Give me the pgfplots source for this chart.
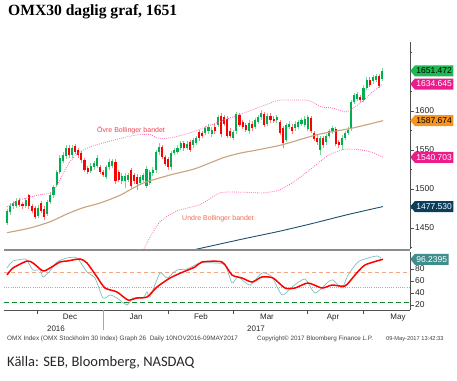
\documentclass[border=0pt]{standalone}
\usepackage{fontspec}
\setmainfont{Liberation Sans}
\newfontfamily\titlefont{Liberation Serif}
\newfontfamily\carlito{Carlito}
\usepackage{pgfplots}
\pgfplotsset{compat=1.18}
\usepackage{pgfplotstable}
\usetikzlibrary{shapes.symbols}

\definecolor{cgreen}{HTML}{00B050}
\definecolor{wgreen}{HTML}{7FD49A}
\definecolor{cred}{HTML}{FF0000}
\definecolor{wred}{HTML}{F48080}
\definecolor{mabrown}{HTML}{C9A27E}
\definecolor{mablue}{HTML}{1F4E6E}
\definecolor{bband}{HTML}{FF5FAF}
\definecolor{axgray}{HTML}{505050}
\definecolor{sepgray}{HTML}{8C8C8C}
\definecolor{oscteal}{HTML}{7FBFBF}
\definecolor{refor}{HTML}{F4A582}
\definecolor{refgreen}{HTML}{108A30}
\definecolor{boxgreen}{HTML}{1DB954}
\definecolor{boxmag}{HTML}{EC1C8C}
\definecolor{boxor}{HTML}{F7941D}
\definecolor{boxnavy}{HTML}{0B3D5C}
\definecolor{boxteal}{HTML}{3E8E8E}
\definecolor{ovrecol}{HTML}{F0404F}
\definecolor{undrecol}{HTML}{F26A4A}

\pgfplotstableread{
i o h l c
0 1457 1475 1454 1472
1 1470 1482 1467 1478
2 1478 1485 1475 1482
3 1478 1488 1476 1485
4 1486 1489 1477 1480
5 1481 1484 1474 1478
6 1478 1489 1476 1486
7 1492 1494 1475 1478
8 1478 1481 1469 1472
9 1476 1478 1461 1464
10 1466 1479 1463 1476
11 1482 1485 1469 1472
12 1475 1478 1460 1464
13 1468 1486 1465 1483
14 1484 1495 1481 1492
15 1492 1505 1489 1502
16 1505 1525 1502 1522
17 1522 1543 1519 1540
18 1536 1547 1533 1543
19 1542 1556 1539 1553
20 1553 1556 1540 1543
21 1543 1556 1540 1553
22 1555 1558 1545 1548
23 1550 1553 1540 1543
24 1546 1549 1534 1537
25 1537 1540 1522 1525
26 1527 1530 1519 1522
27 1523 1533 1520 1530
28 1528 1536 1525 1533
29 1530 1543 1527 1540
30 1528 1531 1519 1522
31 1522 1525 1515 1518
32 1516 1531 1513 1528
33 1528 1538 1525 1535
34 1530 1539 1527 1536
35 1535 1538 1507 1510
36 1522 1525 1509 1512
37 1510 1520 1507 1517
38 1510 1520 1501 1517
39 1512 1521 1509 1518
40 1524 1527 1501 1504
41 1518 1521 1507 1510
42 1516 1519 1499 1506
43 1508 1518 1505 1515
44 1512 1521 1509 1518
45 1504 1529 1501 1526
46 1508 1525 1505 1522
47 1520 1528 1517 1525
48 1524 1550 1521 1547
49 1547 1559 1544 1554
50 1554 1557 1538 1541
51 1541 1544 1529 1532
52 1538 1541 1525 1528
53 1528 1549 1525 1546
54 1546 1553 1543 1550
55 1548 1556 1545 1553
56 1553 1562 1550 1559
57 1559 1562 1549 1552
58 1553 1561 1550 1558
59 1560 1563 1547 1550
60 1556 1566 1553 1563
61 1559 1568 1556 1565
62 1573 1576 1562 1565
63 1572 1575 1565 1568
64 1572 1581 1569 1578
65 1574 1583 1571 1580
66 1570 1579 1567 1576
67 1580 1583 1571 1574
68 1582 1595 1579 1592
69 1594 1597 1567 1570
70 1592 1595 1581 1584
71 1590 1593 1565 1568
72 1575 1578 1565 1568
73 1566 1576 1563 1573
74 1574 1599 1571 1596
75 1595 1598 1579 1582
76 1586 1589 1577 1580
77 1582 1585 1573 1576
78 1574 1588 1571 1585
79 1584 1587 1575 1578
80 1580 1591 1577 1588
81 1586 1595 1583 1592
82 1592 1601 1589 1598
83 1596 1599 1579 1582
84 1584 1597 1581 1594
85 1594 1597 1585 1588
86 1590 1593 1585 1588
87 1588 1595 1585 1592
88 1586 1589 1569 1572
89 1578 1581 1553 1559
90 1563 1585 1560 1582
91 1580 1587 1577 1584
92 1580 1583 1571 1574
93 1578 1587 1575 1584
94 1580 1589 1577 1586
95 1584 1591 1581 1588
96 1582 1593 1579 1590
97 1577 1595 1574 1592
98 1591 1594 1572 1575
99 1572 1575 1561 1564
100 1566 1569 1557 1560
101 1550 1568 1544 1565
102 1565 1568 1553 1556
103 1560 1571 1557 1568
104 1568 1577 1565 1574
105 1574 1581 1571 1578
106 1577 1580 1555 1558
107 1560 1563 1553 1556
108 1556 1569 1550 1566
109 1566 1575 1563 1572
110 1572 1579 1569 1576
111 1578 1614 1575 1612
112 1612 1623 1609 1620
113 1616 1625 1613 1622
114 1618 1621 1611 1614
115 1614 1633 1611 1630
116 1630 1643 1627 1640
117 1640 1643 1631 1634
118 1638 1646 1635 1643
119 1640 1648 1637 1645
120 1645 1648 1629 1632
121 1641 1655 1638 1651.472
}\candles

\pgfplotstableread{
x y
7 1444
30 1450
50 1458
67 1468
83 1476
100 1482
120 1492
142 1507
170 1518
195 1526
223 1540
240 1546
257 1550
283 1557
318 1570
352 1578
383 1587.674
}\mahundred

\pgfplotstableread{
x y
190 1421
243 1436
280 1446
313 1456
347 1467
383 1477.530
}\matwohundred

\pgfplotstableread{
x y
7 1477
20 1486
37 1492
50 1495
57 1505
63 1520
70 1535
78 1546
90 1554
100 1558
115 1563
135 1569
150 1570
158 1565
172 1566
190 1572
207 1580
223 1588
247 1599
270 1610
280 1614
305 1614
312 1612
322 1605
332 1604
345 1599
350 1601
362 1612
372 1624
383 1634.645
}\bbupper

\pgfplotstableread{
x y
142 1418
150 1438
160 1458
177 1472
200 1480
220 1495
240 1496
263 1495
280 1499
297 1512
313 1528
328 1543
345 1551
362 1550
372 1547
383 1540.703
}\bblower

\pgfplotstableread{
x y
7 70
13 81.7
27 93.3
33 90
43 76.7
50 81.7
60 91.7
67 93.3
80 96.7
87 90
97 66.7
105 48.3
117 41.7
128 28.3
137 31.7
147 33.3
157 50
170 65
183 75
195 83.3
202 91.7
222 91.7
232 70
242 65
252 58.3
262 66.7
273 65
285 48.3
295 48.3
308 56.7
322 48.3
332 53.3
345 51.7
355 70
365 86.7
383 96.2395
}\oscred

\pgfplotstableread{
x y
7 81.7
13 93.3
25 96.7
28 91.7
33 78.3
40 78.3
43 66.7
50 76.7
57 91.7
67 98.3
77 98.3
87 75
95 65
103 31.7
110 36.7
117 31.7
127 20
133 31.7
143 31.7
147 41.7
150 33.3
160 73.3
167 65
177 78.3
187 80
200 90
215 90
225 86.7
232 56.7
238 66.7
250 53.3
262 73.3
272 66.7
282 36.7
292 50
305 63.3
315 40
328 58.3
333 61.7
342 48.3
348 70
358 91.7
368 98.3
377 101.7
381 98.3
}\oscteal

\tikzset{valbox/.style={signal, signal to=west, signal pointer angle=100, anchor=west, inner xsep=1.5pt, inner ysep=0.8pt, minimum height=11pt, font=\fontsize{8.5}{9}\selectfont}}
\pgfplotsset{
  wick/.style={draw=none, mark=none, forget plot,
    error bars/.cd, y dir=both, y explicit, error mark=none,
    error bar style={line width=0.5pt, draw=#1, solid}},
  body/.style={draw=none, mark=none, forget plot,
    error bars/.cd, y dir=both, y explicit, error mark=none,
    error bar style={line width=2.1pt, draw=#1, solid}}
}

\begin{document}
\begin{tikzpicture}[x=1pt,y=1pt]
\path[use as bounding box] (0,0) rectangle (457,380);

\begin{axis}[at={(4pt,131pt)}, anchor=south west, scale only axis,
  width=406pt, height=207pt,
  xmin=4, xmax=410, ymin=1423.1, ymax=1688.5,
  axis x line=none, axis y line*=right,
  axis line style={-, draw=axgray},
  ytick={1450,1500,1550,1600},
  minor ytick={1425,1475,1525,1575,1625,1675},
  tick align=outside, major tick length=4pt, minor tick length=2pt,
  tick style={draw=axgray},
  yticklabel style={font=\fontsize{8.5}{9}\selectfont, text=black!85, inner sep=1pt},
  /pgf/number format/assume math mode=true,
  /pgf/number format/1000 sep={},
  clip mode=individual]

\addplot[restrict expr to domain={\thisrow{c}-\thisrow{o}}{0:1000}, wick=wgreen]
  table[x expr=7+3.1*\thisrow{i}, y expr=(\thisrow{h}+\thisrow{l})/2, y error expr=(\thisrow{h}-\thisrow{l})/2] {\candles};
\addplot[restrict expr to domain={\thisrow{c}-\thisrow{o}}{-1000:-0.001}, wick=wred]
  table[x expr=7+3.1*\thisrow{i}, y expr=(\thisrow{h}+\thisrow{l})/2, y error expr=(\thisrow{h}-\thisrow{l})/2] {\candles};
\addplot[restrict expr to domain={\thisrow{c}-\thisrow{o}}{0:1000}, body=cgreen]
  table[x expr=7+3.1*\thisrow{i}, y expr=(\thisrow{o}+\thisrow{c})/2, y error expr={max(abs(\thisrow{c}-\thisrow{o})/2,0.8)}] {\candles};
\addplot[restrict expr to domain={\thisrow{c}-\thisrow{o}}{-1000:-0.001}, body=cred]
  table[x expr=7+3.1*\thisrow{i}, y expr=(\thisrow{o}+\thisrow{c})/2, y error expr={max(abs(\thisrow{c}-\thisrow{o})/2,0.8)}] {\candles};

\addplot[mabrown, line width=1.1pt, smooth, tension=0.4] table {\mahundred};
\addplot[mablue, line width=0.9pt, smooth, tension=0.4] table {\matwohundred};
\addplot[bband, line width=0.8pt, dash pattern=on 0.8pt off 1.3pt, smooth, tension=0.4] table {\bbupper};
\addplot[bband, line width=0.8pt, dash pattern=on 0.8pt off 1.3pt, smooth, tension=0.4] table {\bblower};

\node[font=\fontsize{7}{8}\selectfont, text=ovrecol, anchor=west, inner sep=0pt] at (axis cs:97,1575.6) {Övre Bollinger bandet};
\node[font=\fontsize{7}{8}\selectfont, text=undrecol, anchor=west, inner sep=0pt] at (axis cs:182,1461.5) {Undre Bollinger bandet};

\node[valbox, fill=boxgreen, text=black] at (axis cs:410,1651.472) {1651.472};
\node[valbox, fill=boxmag, text=white] at (axis cs:410,1634.645) {1634.645};
\node[valbox, fill=boxor, text=black] at (axis cs:410,1587.674) {1587.674};
\node[valbox, fill=boxmag, text=white] at (axis cs:410,1540.703) {1540.703};
\node[valbox, fill=boxnavy, text=white] at (axis cs:410,1477.530) {1477.530};
\end{axis}

\draw[line width=2.6pt, sepgray] (4,130) -- (410,130);

\begin{axis}[at={(4pt,70pt)}, anchor=south west, scale only axis,
  width=406pt, height=58pt,
  xmin=4, xmax=410, ymin=11.67, ymax=108.33,
  axis x line*=bottom, axis y line*=right,
  axis line style={-, draw=axgray},
  ytick={20,40,60,80},
  xtick={37,103,168,233,307,363},
  xticklabels={,,,,,},
  extra x ticks={70,136,201,267,333,398},
  extra x tick labels={Dec,Jan,Feb,Mar,Apr,May},
  extra x tick style={major tick length=0pt, tick style={draw=none}},
  xticklabel style={font=\fontsize{8}{9}\selectfont, text=black!85, inner sep=1pt, yshift=-3pt},
  tick align=outside, major tick length=4pt,
  tick style={draw=axgray},
  yticklabel style={font=\fontsize{8.5}{9}\selectfont, text=black!85, inner sep=1pt},
  /pgf/number format/assume math mode=true,
  clip mode=individual]
\addplot[refor, line width=0.8pt, dash pattern=on 4pt off 3pt] coordinates {(4,75) (410,75)};
\addplot[oscteal, line width=0.7pt, dash pattern=on 0.7pt off 1.5pt] coordinates {(4,50) (410,50)};
\addplot[refgreen, line width=1pt, dash pattern=on 5pt off 3pt] coordinates {(4,25) (410,25)};
\addplot[oscteal, line width=0.7pt, smooth, tension=0.4] table {\oscteal};
\addplot[cred, line width=1.5pt, smooth, tension=0.4] table {\oscred};
\node[valbox, fill=boxteal, text=white] at (axis cs:410,96.2395) {96.2395};
\end{axis}

\draw[line width=0.5pt, black!35] (103,70) -- (103,50);
\node[font=\fontsize{8}{9}\selectfont, text=black!85, anchor=base] at (56,49) {2016};
\node[font=\fontsize{8}{9}\selectfont, text=black!85, anchor=base] at (256,49) {2017};

\node[font=\fontsize{6.4}{7}\selectfont, text=black!75, anchor=base west, inner sep=0pt] at (7,40) {OMX Index (OMX Stockholm 30 Index) Graph 26\ \ Daily 10NOV2016-09MAY2017};
\node[font=\fontsize{6.3}{7}\selectfont, text=black!75, anchor=base west, inner sep=0pt] at (257,40) {Copyright© 2017 Bloomberg Finance L.P.};
\node[font=\fontsize{5.7}{7}\selectfont, text=black!75, anchor=base west, inner sep=0pt] at (386,40) {09-May-2017 13:42:33};

\node[font=\titlefont\bfseries\fontsize{15.6}{18}\selectfont, anchor=base west, inner sep=0pt] at (8,364) {OMX30 daglig graf, 1651};
\node[font=\carlito\fontsize{14.5}{16}\selectfont, text=black!85, anchor=base west, inner sep=0pt] at (7,14) {Källa: SEB, Bloomberg, NASDAQ};
\end{tikzpicture}
\end{document}
